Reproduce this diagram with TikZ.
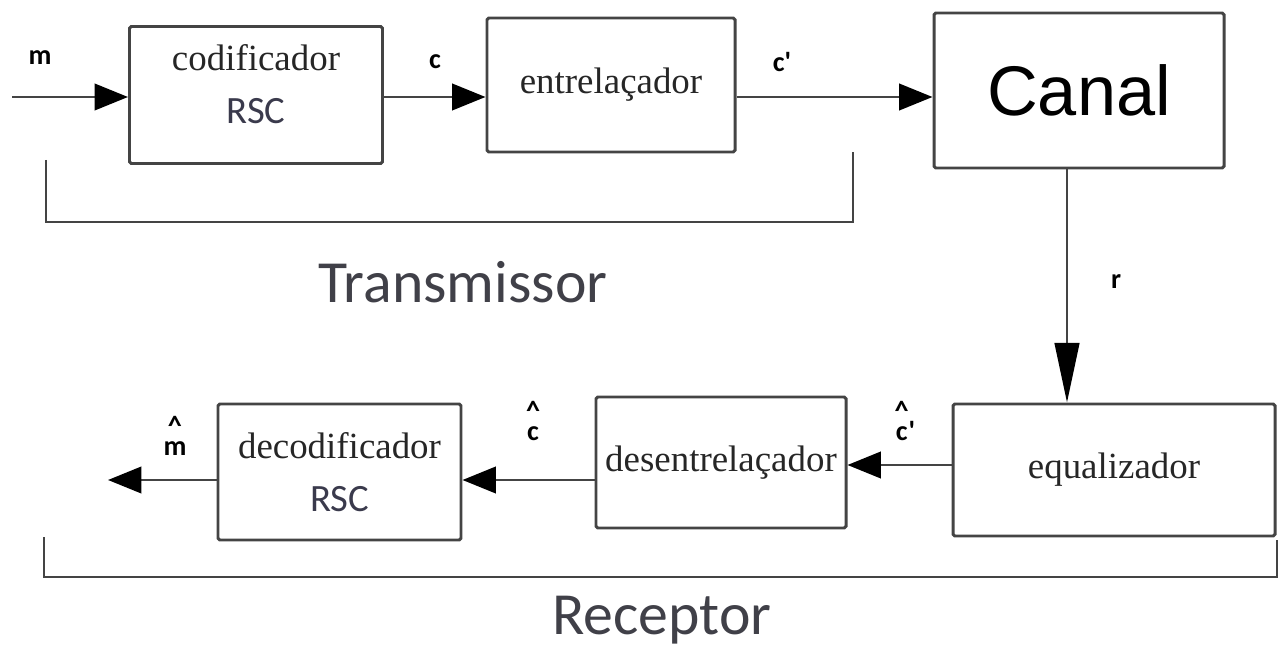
\documentclass[tikz,border=0pt]{standalone}
\usepackage{fontspec}
\setmainfont{Liberation Serif}
\setsansfont{Liberation Sans}
\newfontfamily\calib{Carlito}
\usetikzlibrary{arrows.meta}
\definecolor{ink}{HTML}{444444}
\definecolor{boxtext}{HTML}{262626}
\definecolor{rsc}{HTML}{3A3A4C}
\definecolor{captext}{HTML}{404048}
\tikzset{
  block/.style={draw=ink, line width=1.7pt, rounded corners=1pt, align=center, inner sep=0pt,
    text=boxtext, font=\fontsize{21}{30}\selectfont},
  flow/.style={draw=ink, line width=1.6pt, -{Triangle[length=19pt,width=15pt,color=black]}},
  longflow/.style={draw=ink, line width=1.6pt, -{Triangle[length=34pt,width=14pt,color=black]}},
  sig/.style={font=\calib\bfseries\fontsize{16}{17}\selectfont},
  brace/.style={draw=ink, line width=1.4pt},
  part/.style={font=\calib\fontsize{34}{36}\selectfont, text=captext},
}
\newcommand{\rsc}{{\calib\color{rsc}\fontsize{22}{24}\selectfont RSC}}
\newcommand{\hatsig}[1]{\begin{tabular}[b]{@{}c@{}}\textasciicircum\\[-0.35em]#1\end{tabular}}

\begin{document}
\begin{tikzpicture}
  \useasboundingbox (0,0) rectangle (25.68,-13.02);
  % transmissor
  \node[block, minimum width=5.06cm, minimum height=2.74cm, text depth=0.45cm] (cod) at (5.12,-1.90) {codificador\\\rsc};
  \node[block, minimum width=4.96cm, minimum height=2.68cm] (entr) at (12.22,-1.70) {entrelaçador};
  \node[block, minimum width=5.80cm, minimum height=3.10cm, text=black,
    font=\sffamily\fontsize{40}{42}\selectfont] (canal) at (21.58,-1.81) {Canal};
  % receptor
  \node[block, minimum width=6.44cm, minimum height=2.64cm] (equal) at (22.28,-9.40) {equalizador};
  \node[block, minimum width=5.00cm, minimum height=2.62cm] (desentr) at (14.42,-9.25) {desentrelaçador};
  \node[block, minimum width=4.86cm, minimum height=2.72cm] (decod) at (6.79,-9.44) {decodificador\\\rsc};

  \coordinate (min) at (0.24,-1.94);
  \coordinate (mout) at (2.16,-9.60);
  \draw[flow] (min) -- (min -| cod.west);
  \draw[flow] (cod.east |- min) -- (entr.west |- min);
  \draw[flow] (entr.east |- min) -- (canal.west |- min);
  \draw[longflow] ([xshift=-0.24cm]canal.south) -- ([xshift=-0.24cm]canal.south |- equal.north);
  \draw[flow] ([yshift=0.1cm]equal.west) -- ([yshift=0.1cm]equal.west -| desentr.east);
  \draw[flow] (desentr.west |- mout) -- (decod.east |- mout);
  \draw[flow] (decod.west |- mout) -- (mout);

  \node[sig] (lm) at (0.80,-1.16) {m};
  \node[sig] (lc) at (8.70,-1.24) {c};
  \node[sig] (lc1) at (15.64,-1.24) {c\textquotesingle};
  \node[sig] (lr) at (22.32,-5.64) {r};
  \node[sig] (lhc1) at (18.10,-8.50) {\hatsig{c}\textquotesingle};
  \node[sig] (lhc) at (10.66,-8.50) {\hatsig{c}};
  \node[sig] (lhm) at (3.50,-8.80) {\hatsig{m}};

  % brackets
  \draw[brace] (0.92,-3.20) -- (0.92,-4.44) -- (17.06,-4.44) -- (17.06,-3.04);
  \draw[brace] (0.88,-10.74) -- (0.88,-11.54) -- (25.54,-11.54) -- (25.54,-10.80);
  \node[part] (tx) at (9.26,-5.64) {Transmissor};
  \node[part] (rx) at (13.24,-12.40) {Receptor};
\end{tikzpicture}
\end{document}
